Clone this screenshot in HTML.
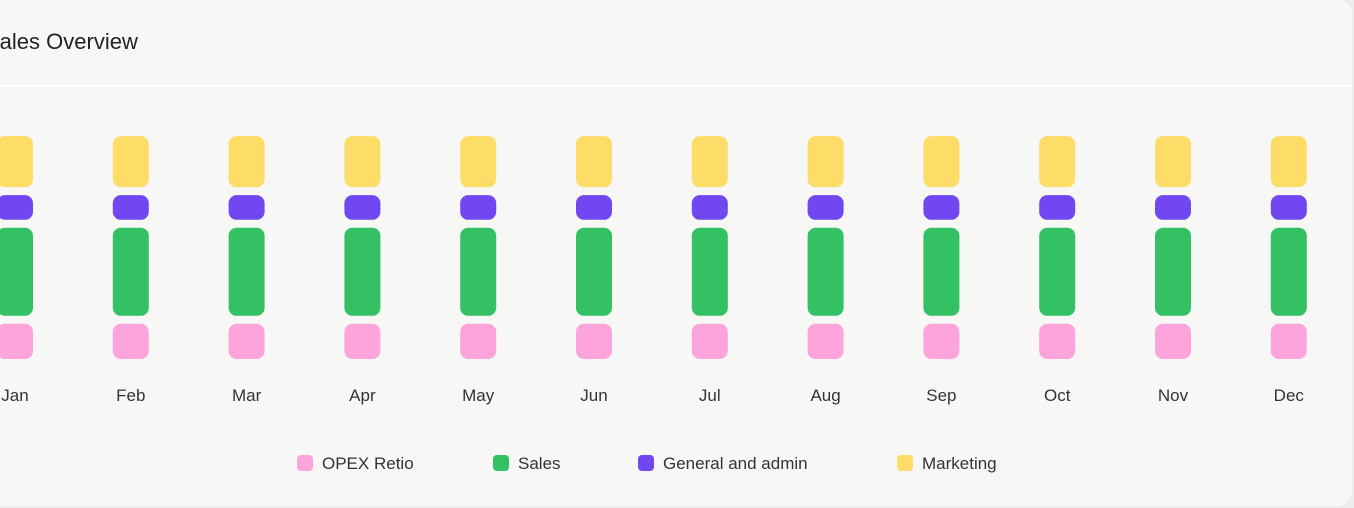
<!DOCTYPE html>
<html><head><meta charset="utf-8"><style>
html,body{margin:0;padding:0;background:#ececea;}
body{width:1354px;height:508px;overflow:hidden;font-family:"Liberation Sans",sans-serif;}
#card{position:absolute;left:-20px;top:0;width:1372px;height:506px;background:#f7f7f5;border-radius:14px;}
</style></head><body>
<div id="card"></div>
<svg id="chart" width="1354" height="508" style="position:absolute;left:0;top:0">
<text x="-15" y="49" font-size="22" fill="#222">Sales Overview</text>
<rect x="0" y="85" width="1352" height="2" fill="#ffffff"/>
<g id="bars"></g>
<g id="xlabels"></g>
<g id="legend"></g>
</svg>
<script>
const months=["Jan","Feb","Mar","Apr","May","Jun","Jul","Aug","Sep","Oct","Nov","Dec"];
const opex=[20,20,20,20,20,20,20,20,20,20,20,20];
const sales=[50,50,50,50,50,50,50,50,50,50,50,50];
const gna=[14,14,14,14,14,14,14,14,14,14,14,14];
const marketing=[29,29,29,29,29,29,29,29,29,29,29,29];
const seriesNames=["OPEX Retio","Sales","General and admin","Marketing"];
const colors=["#fda4dc","#33c163","#7047f0","#fddc67"];
const NS="http://www.w3.org/2000/svg";
const x0=15,step=115.8,barW=36,baseY=359,gap=8,k=1.76;
function xs(i){return x0+i*step;}
function hs(v){return v*k;}
const bars=document.getElementById('bars');
const series=[opex,sales,gna,marketing];
months.forEach((m,i)=>{
  let y=baseY;
  series.forEach((s,j)=>{
    const h=hs(s[i]);
    const r=document.createElementNS(NS,'rect');
    r.setAttribute('x',xs(i)-barW/2);r.setAttribute('y',y-h);
    r.setAttribute('width',barW);r.setAttribute('height',h);
    r.setAttribute('rx',8);r.setAttribute('fill',colors[j]);
    
    
    bars.appendChild(r);
    y-=h+gap;
  });
  const t=document.createElementNS(NS,'text');
  t.setAttribute('x',xs(i));t.setAttribute('y',401);
  t.setAttribute('text-anchor','middle');t.setAttribute('font-size','17');t.setAttribute('fill','#333');
  t.textContent=m;
  
  
  document.getElementById('xlabels').appendChild(t);
});
const lx=[297,493,638,897];
const lg=document.getElementById('legend');
seriesNames.forEach((n,j)=>{
  const g=document.createElementNS(NS,'g');
  
  
  const r=document.createElementNS(NS,'rect');
  r.setAttribute('x',lx[j]);r.setAttribute('y',455);r.setAttribute('width',16);r.setAttribute('height',16);
  r.setAttribute('rx',4);r.setAttribute('fill',colors[j]);
  const t=document.createElementNS(NS,'text');
  t.setAttribute('x',lx[j]+25);t.setAttribute('y',469);t.setAttribute('font-size','17');t.setAttribute('fill','#333');
  t.textContent=n;
  g.appendChild(r);g.appendChild(t);lg.appendChild(g);
});
</script>
</body></html>
